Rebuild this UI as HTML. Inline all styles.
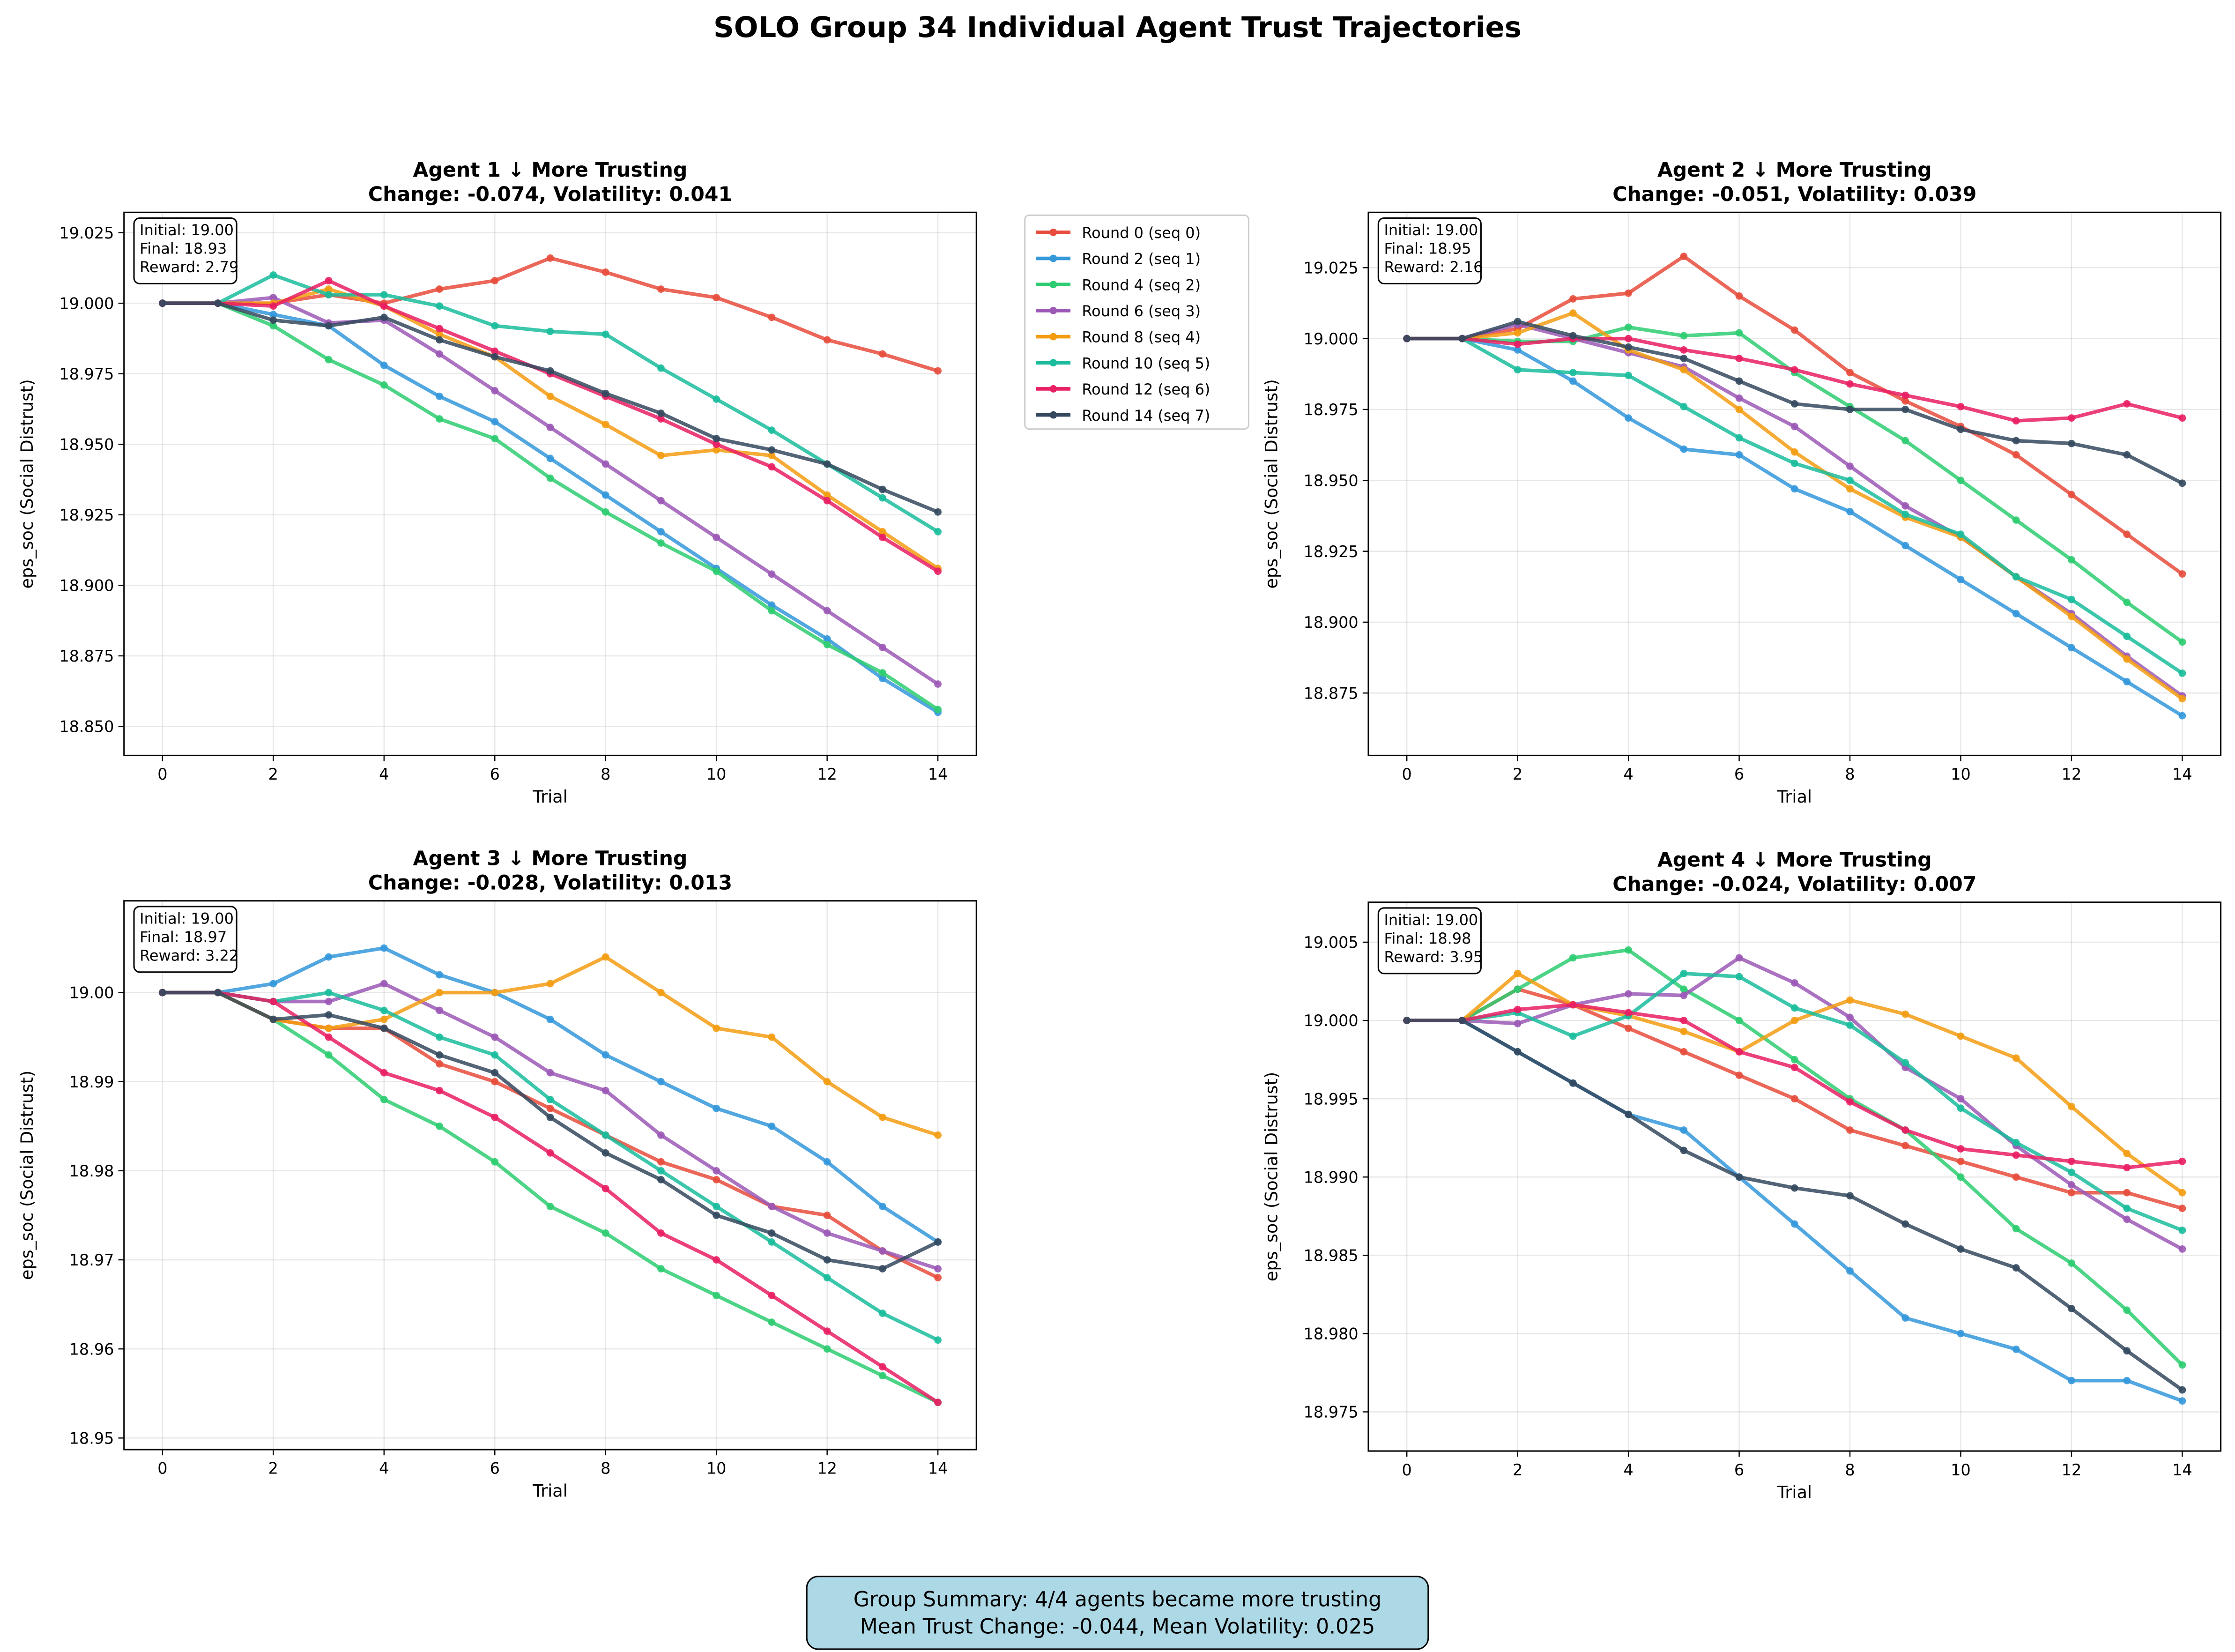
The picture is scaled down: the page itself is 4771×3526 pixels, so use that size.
<!DOCTYPE html>
<html><head><meta charset="utf-8"><style>
html,body{margin:0;padding:0;background:#fff}
svg{display:block}
text{font-family:"DejaVu Sans","Liberation Sans",sans-serif}
</style></head><body>
<svg id="c" width="4771" height="3526" viewBox="0 0 1568 1159" preserveAspectRatio="none" xmlns="http://www.w3.org/2000/svg">
<rect width="1568" height="1159" fill="#fff"/>
<text x="784" y="26" text-anchor="middle" font-size="20" font-weight="bold">SOLO Group 34 Individual Agent Trust Trajectories</text>
<g>
<rect x="566" y="1106" width="436" height="51" rx="8" fill="#add8e6" stroke="#000" stroke-width="1"/>
<text x="784" y="1127" text-anchor="middle" font-size="14.5">Group Summary: 4/4 agents became more trusting</text>
<text x="784" y="1146" text-anchor="middle" font-size="14.5">Mean Trust Change: -0.044, Mean Volatility: 0.025</text>
</g>
</svg>
<script>
const seriesNames=["Round 0 (seq 0)","Round 2 (seq 1)","Round 4 (seq 2)","Round 6 (seq 3)","Round 8 (seq 4)","Round 10 (seq 5)","Round 12 (seq 6)","Round 14 (seq 7)"];
const colors=["#e74c3c","#3498db","#2ecc71","#9b59b6","#f39c12","#1abc9c","#e91e63","#34495e"];
const trials=[0,1,2,3,4,5,6,7,8,9,10,11,12,13,14];
const agent1=[
[19,19,19.000,19.003,19.000,19.005,19.008,19.016,19.011,19.005,19.002,18.995,18.987,18.982,18.976],
[19,19,18.996,18.992,18.978,18.967,18.958,18.945,18.932,18.919,18.906,18.893,18.881,18.867,18.855],
[19,19,18.992,18.980,18.971,18.959,18.952,18.938,18.926,18.915,18.905,18.891,18.879,18.869,18.856],
[19,19,19.002,18.993,18.994,18.982,18.969,18.956,18.943,18.930,18.917,18.904,18.891,18.878,18.865],
[19,19,19.000,19.005,18.999,18.989,18.981,18.967,18.957,18.946,18.948,18.946,18.932,18.919,18.906],
[19,19,19.010,19.003,19.003,18.999,18.992,18.990,18.989,18.977,18.966,18.955,18.943,18.931,18.919],
[19,19,18.999,19.008,18.999,18.991,18.983,18.975,18.967,18.959,18.950,18.942,18.930,18.917,18.905],
[19,19,18.994,18.992,18.995,18.987,18.981,18.976,18.968,18.961,18.952,18.948,18.943,18.934,18.926]];
const agent2=[
[19,19,19.0035,19.014,19.016,19.029,19.015,19.003,18.988,18.978,18.969,18.959,18.945,18.931,18.917],
[19,19,18.996,18.985,18.972,18.961,18.959,18.947,18.939,18.927,18.915,18.903,18.891,18.879,18.867],
[19,19,18.999,18.999,19.004,19.001,19.002,18.988,18.976,18.964,18.950,18.936,18.922,18.907,18.893],
[19,19,19.005,19.000,18.995,18.990,18.979,18.969,18.955,18.941,18.930,18.916,18.903,18.888,18.874],
[19,19,19.002,19.009,18.996,18.989,18.975,18.960,18.947,18.937,18.930,18.916,18.902,18.887,18.873],
[19,19,18.989,18.988,18.987,18.976,18.965,18.956,18.950,18.938,18.931,18.916,18.908,18.895,18.882],
[19,19,18.998,19.000,19.000,18.996,18.993,18.989,18.984,18.980,18.976,18.971,18.972,18.977,18.972],
[19,19,19.006,19.001,18.997,18.993,18.985,18.977,18.975,18.975,18.968,18.964,18.963,18.959,18.949]];
const agent3=[
[19,19,18.997,18.996,18.996,18.992,18.990,18.987,18.984,18.981,18.979,18.976,18.975,18.971,18.968],
[19,19,19.001,19.004,19.005,19.002,19.000,18.997,18.993,18.990,18.987,18.985,18.981,18.976,18.972],
[19,19,18.997,18.993,18.988,18.985,18.981,18.976,18.973,18.969,18.966,18.963,18.960,18.957,18.954],
[19,19,18.999,18.999,19.001,18.998,18.995,18.991,18.989,18.984,18.980,18.976,18.973,18.971,18.969],
[19,19,18.997,18.996,18.997,19.000,19.000,19.001,19.004,19.000,18.996,18.995,18.990,18.986,18.984],
[19,19,18.999,19.000,18.998,18.995,18.993,18.988,18.984,18.980,18.976,18.972,18.968,18.964,18.961],
[19,19,18.999,18.995,18.991,18.989,18.986,18.982,18.978,18.973,18.970,18.966,18.962,18.958,18.954],
[19,19,18.997,18.9975,18.996,18.993,18.991,18.986,18.982,18.979,18.975,18.973,18.970,18.969,18.972]];
const agent4=[
[19,19,19.002,19.001,18.9995,18.998,18.9965,18.995,18.993,18.992,18.991,18.990,18.989,18.989,18.988],
[19,19,18.998,18.996,18.994,18.993,18.990,18.987,18.984,18.981,18.980,18.979,18.977,18.977,18.9757],
[19,19,19.002,19.004,19.0045,19.002,19.000,18.9975,18.995,18.993,18.990,18.9867,18.9845,18.9815,18.978],
[19,19,18.9998,19.001,19.0017,19.0016,19.004,19.0024,19.0002,18.997,18.995,18.992,18.9895,18.9873,18.9854],
[19,19,19.003,19.001,19.0003,18.9993,18.998,19.000,19.0013,19.0004,18.999,18.9976,18.9945,18.9915,18.989],
[19,19,19.0005,18.999,19.0003,19.003,19.0028,19.0008,18.9997,18.9973,18.9944,18.9922,18.9903,18.988,18.9866],
[19,19,19.0007,19.001,19.0005,19.0,18.998,18.997,18.9948,18.993,18.9918,18.9914,18.991,18.9906,18.991],
[19,19,18.998,18.996,18.994,18.9917,18.990,18.9893,18.9888,18.987,18.9854,18.9842,18.9816,18.9789,18.9764]];
const yTicks1=[18.850,18.875,18.900,18.925,18.950,18.975,19.000,19.025];
const yTicks2=[18.875,18.900,18.925,18.950,18.975,19.000,19.025];
const yTicks3=[18.95,18.96,18.97,18.98,18.99,19.00];
const yTicks4=[18.975,18.980,18.985,18.990,18.995,19.000,19.005];
const xTicks=[0,2,4,6,8,10,12,14];
const titles=["Agent 1 ↓ More Trusting","Agent 2 ↓ More Trusting","Agent 3 ↓ More Trusting","Agent 4 ↓ More Trusting"];
const subtitles=["Change: -0.074, Volatility: 0.041","Change: -0.051, Volatility: 0.039","Change: -0.028, Volatility: 0.013","Change: -0.024, Volatility: 0.007"];
const infos=[["Initial: 19.00","Final: 18.93","Reward: 2.79"],["Initial: 19.00","Final: 18.95","Reward: 2.16"],["Initial: 19.00","Final: 18.97","Reward: 3.22"],["Initial: 19.00","Final: 18.98","Reward: 3.95"]];

const NS="http://www.w3.org/2000/svg";
const svg=document.getElementById('c');
function mk(tag,attrs,parent){const e=document.createElementNS(NS,tag);for(const k in attrs)e.setAttribute(k,attrs[k]);(parent||svg).appendChild(e);return e;}
const panels=[
 {x0:87,x1:685,y0:149,y1:530,ymin:18.8397,ymax:19.0322,data:agent1,ticks:yTicks1,dec:3},
 {x0:960,x1:1558,y0:149,y1:530,ymin:18.853,ymax:19.0445,data:agent2,ticks:yTicks2,dec:3},
 {x0:87,x1:685,y0:632,y1:1017,ymin:18.9487,ymax:19.0103,data:agent3,ticks:yTicks3,dec:2},
 {x0:960,x1:1558,y0:633,y1:1018,ymin:18.9725,ymax:19.00755,data:agent4,ticks:yTicks4,dec:3}];
panels.forEach((p,pi)=>{
 const g=mk('g',{});
 
 
 const xs=v=>p.x0+27+(v/14)*(p.x1-p.x0-54);
 const ys=v=>p.y1-(v-p.ymin)/(p.ymax-p.ymin)*(p.y1-p.y0);
 xTicks.forEach(t=>{
  mk('line',{x1:xs(t),x2:xs(t),y1:p.y0,y2:p.y1,stroke:'#b0b0b0','stroke-opacity':0.3,'stroke-width':0.8},g);
  mk('line',{x1:xs(t),x2:xs(t),y1:p.y1,y2:p.y1+4,stroke:'#000','stroke-width':0.8},g);
  const tx=mk('text',{x:xs(t),y:p.y1+17,'text-anchor':'middle','font-size':11},g);tx.textContent=t;
  
  
 });
 p.ticks.forEach(t=>{
  mk('line',{x1:p.x0,x2:p.x1,y1:ys(t),y2:ys(t),stroke:'#b0b0b0','stroke-opacity':0.3,'stroke-width':0.8},g);
  mk('line',{x1:p.x0-4,x2:p.x0,y1:ys(t),y2:ys(t),stroke:'#000','stroke-width':0.8},g);
  const tx=mk('text',{x:p.x0-7,y:ys(t)+4,'text-anchor':'end','font-size':11},g);tx.textContent=t.toFixed(p.dec);
  
  
 });
 p.data.forEach((s,si)=>{
  const pts=s.map((v,i)=>xs(trials[i]).toFixed(2)+','+ys(v).toFixed(2)).join(' ');
  const pl=mk('polyline',{points:pts,fill:'none',stroke:colors[si],'stroke-width':2.5,'stroke-opacity':0.85,'stroke-linejoin':'round'},g);
  
  
  s.forEach((v,i)=>{const c=mk('circle',{cx:xs(trials[i]),cy:ys(v),r:2.6,fill:colors[si],'fill-opacity':0.9},g);
   
   });
 });
 const fr=mk('rect',{x:p.x0,y:p.y0,width:p.x1-p.x0,height:p.y1-p.y0,fill:'none',stroke:'#000','stroke-width':1},g);
 
 
 const cx=(p.x0+p.x1)/2;
 const t1=mk('text',{x:cx,y:p.y0-25,'text-anchor':'middle','font-size':14,'font-weight':'bold'},g);t1.textContent=titles[pi];
 
 
 const t2=mk('text',{x:cx,y:p.y0-8,'text-anchor':'middle','font-size':14,'font-weight':'bold'},g);t2.textContent=subtitles[pi];
 
 
 const xl=mk('text',{x:cx,y:p.y1+33,'text-anchor':'middle','font-size':12},g);xl.textContent='Trial';
 
 
 const ym=(p.y0+p.y1)/2;
 const yl=mk('text',{x:p.x0-64,y:ym,'text-anchor':'middle','font-size':12,transform:`rotate(-90 ${p.x0-64} ${ym})`},g);yl.textContent='eps_soc (Social Distrust)';
 
 
 const ib=mk('g',{},g);
 
 
 mk('rect',{x:p.x0+7,y:p.y0+4,width:72,height:46,rx:4,fill:'#fff','fill-opacity':0.85,stroke:'#000','stroke-width':1},ib);
 infos[pi].forEach((l,li)=>{const t=mk('text',{x:p.x0+11,y:p.y0+16+li*13,'font-size':10.5},ib);t.textContent=l;});
});
const lg=mk('g',{});


mk('rect',{x:719,y:151,width:157,height:150,rx:3,fill:'#fff',stroke:'#ccc','stroke-width':1},lg);
seriesNames.forEach((n,i)=>{
 const y=163+i*18.3;
 const e=mk('g',{},lg);
 
 
 mk('line',{x1:727,x2:751,y1:y,y2:y,stroke:colors[i],'stroke-width':2.5},e);
 mk('circle',{cx:739,cy:y,r:2.6,fill:colors[i]},e);
 const t=mk('text',{x:759,y:y+4,'font-size':10.5},e);t.textContent=n;
});
</script>
</body></html>
